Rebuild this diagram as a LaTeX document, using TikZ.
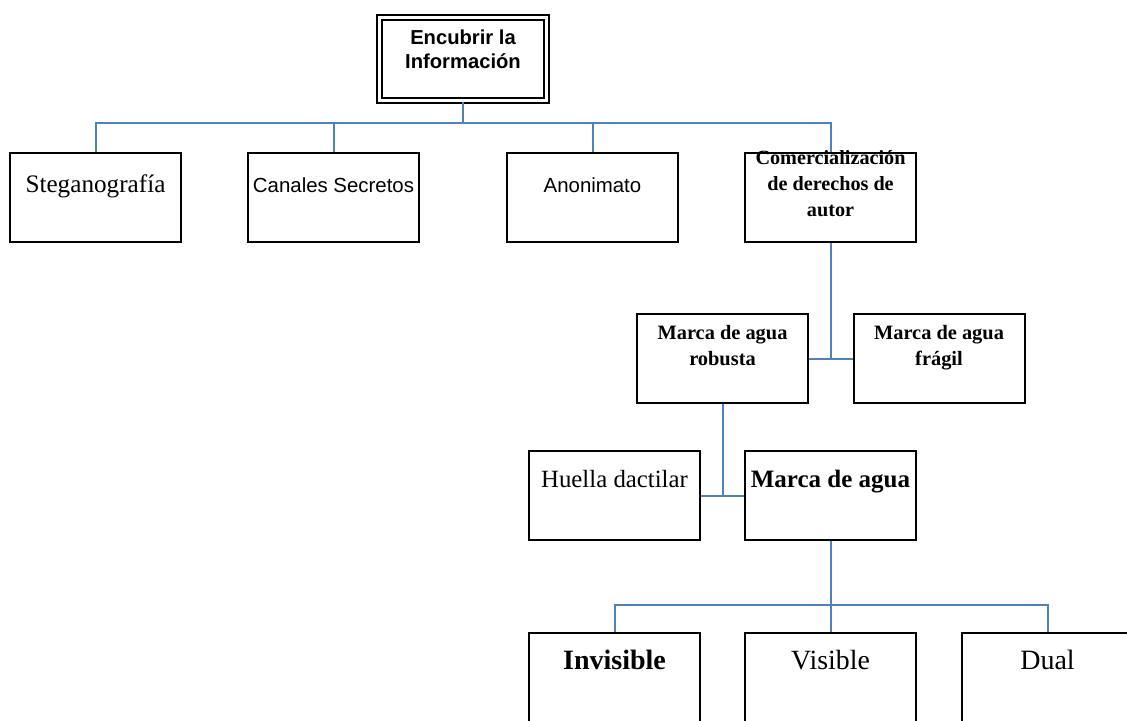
\documentclass[tikz,border=0pt]{standalone}
\usepackage{fontspec}
\usepackage{xcolor}
\usepackage{tikz}
\setmainfont{Liberation Serif}
\newfontfamily\arial{Liberation Sans}
\definecolor{azul}{HTML}{4F81BD}
\tikzset{
  caja/.style={draw, line width=1pt, inner sep=0pt, text width=85.5pt, align=flush center},
  conector/.style={draw=azul, line width=1pt},
}

\begin{document}
\begin{tikzpicture}[x=0.5pt, y=-0.5pt]
        % Marco de la figura
        \clip (0,0) rectangle (1127,720);
        % Caja principal con borde doble
        \node[caja, double, double distance=1.5pt, text width=83.5pt, text height=13.25pt, text depth=28.25pt,
              font=\arial\fontsize{10.1}{12}\selectfont\bfseries] (encubrir) at (463,59)
            {Encubrir la\\Información};
        % Primer nivel
        \node[caja, text height=19.5pt, text depth=25pt, font=\fontsize{12.6}{15}\selectfont] (stego) at (95.5,197.5)
            {Steganografía};
        \node[caja, text height=19.5pt, text depth=25pt, font=\arial\fontsize{10.2}{12}\selectfont] (canales) at (333.5,197.5)
            {Canales Secretos};
        \node[caja, text height=19.5pt, text depth=25pt, font=\arial\fontsize{10.2}{12}\selectfont] (anonimato) at (592.5,197.5)
            {Anonimato};
        \node[caja, text height=5.5pt, text depth=39pt, font=\fontsize{10.1}{13}\selectfont\bfseries] (comerc) at (830.5,197.5)
            {Comercialización\\de derechos de\\autor};
        % Segundo nivel
        \node[caja, text height=12.5pt, text depth=32pt, font=\fontsize{10.2}{13}\selectfont\bfseries] (robusta) at (722.5,358.5)
            {Marca de agua\\robusta};
        \node[caja, text height=12.5pt, text depth=32pt, font=\fontsize{10.2}{13}\selectfont\bfseries] (fragil) at (939,358.5)
            {Marca de agua\\frágil};
        % Tercer nivel
        \node[caja, text height=18pt, text depth=26.5pt, font=\fontsize{12.4}{15}\selectfont] (huella) at (614.5,495.5)
            {Huella dactilar};
        \node[caja, text height=18pt, text depth=26.5pt, font=\fontsize{12.5}{15}\selectfont\bfseries] (marca) at (830.5,495.5)
            {Marca de agua};
        % Cuarto nivel
        \node[caja, text height=18pt, text depth=26.5pt, font=\fontsize{14}{17}\selectfont\bfseries] (invisible) at (614.5,677.5)
            {Invisible};
        \node[caja, text height=18pt, text depth=26.5pt, font=\fontsize{13.9}{17}\selectfont] (visible) at (830.5,677.5)
            {Visible};
        \node[caja, text height=18pt, text depth=26.5pt, font=\fontsize{14}{17}\selectfont] (dual) at (1047.5,677.5)
            {Dual};
        % Líneas de conexión
        \coordinate (bus1) at (463,122.5);
        \coordinate (bus3) at (830.5,604.5);
        \draw[conector] (encubrir.south) -- (bus1);
        \foreach \n in {stego,canales,anonimato,comerc}
            \draw[conector] (bus1) -| (\n.north);
        \draw[conector] (comerc.south) -- (comerc.south |- robusta.east);
        \draw[conector] (robusta.east) -- (fragil.west);
        \draw[conector] (robusta.south) -- (robusta.south |- huella.east);
        \draw[conector] (huella.east) -- (marca.west);
        \draw[conector] (marca.south) -- (visible.north);
        \draw[conector] (bus3) -| (invisible.north);
        \draw[conector] (bus3) -| (dual.north);
\end{tikzpicture}
\end{document}
